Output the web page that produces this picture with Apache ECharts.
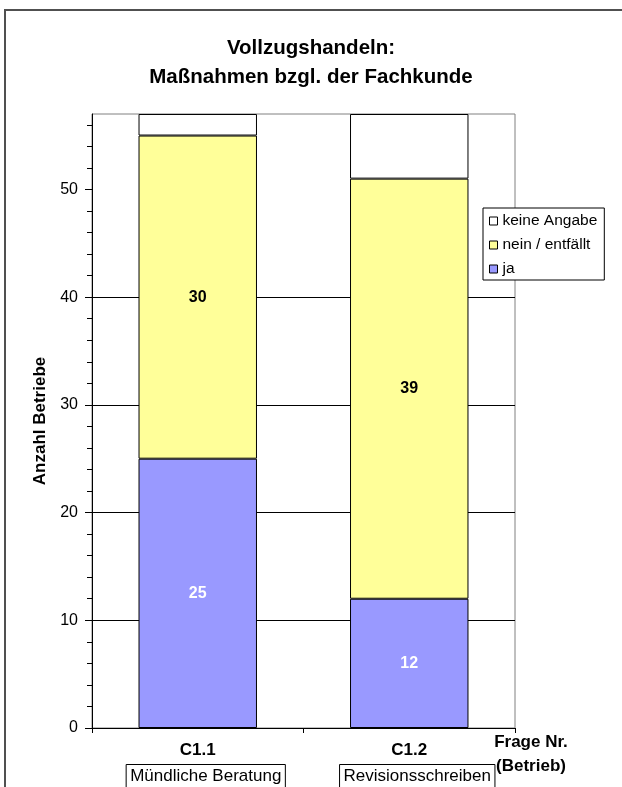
<!DOCTYPE html>
<html>
<head>
<meta charset="utf-8">
<script src="https://cdn.jsdelivr.net/npm/echarts@6/dist/echarts.min.js"></script>
<style>
  html, body { margin: 0; padding: 0; background: #fff; }
  #chart { width: 622px; height: 787px; }
</style>
</head>
<body>
<div id="chart"></div>
<script>
// Questions (category codes) and their descriptions
const categories = ['C1.1', 'C1.2'];
const descriptions = ['Mündliche Beratung', 'Revisionsschreiben'];

// Number of companies per answer
const seriesNames = ['ja', 'nein / entfällt', 'keine Angabe'];
const jaValues = [25, 12];
const neinValues = [30, 39];
const keineValues = [2, 6];

// Value axis
const yMax = 57;
const yLabelValues = [0, 10, 20, 30, 40, 50];
const yMinorTicks = [2, 4, 6, 8, 12, 14, 16, 18, 22, 24, 26, 28, 32, 34, 36, 38, 42, 44, 46, 48, 52, 54, 56];

const FONT = '"Liberation Sans", Arial, Helvetica, sans-serif';

const chart = echarts.init(document.getElementById('chart'));

function barSeries(name, data, color, labelColor) {
  return {
    name: name,
    type: 'bar',
    stack: 'total',
    barWidth: '56%',
    data: data,
    itemStyle: { color: color, borderColor: '#000', borderWidth: 1 },
    label: labelColor ? {
      show: true,
      position: 'inside',
      color: labelColor,
      fontFamily: FONT,
      fontWeight: 'bold',
      fontSize: 16
    } : { show: false },
    emphasis: { disabled: true }
  };
}

chart.setOption({
  animation: false,
  backgroundColor: '#fff',
  textStyle: { fontFamily: FONT },
  title: {
    text: 'Vollzugshandeln:\nMaßnahmen bzgl. der Fachkunde',
    left: 'center',
    top: 29,
    textStyle: {
      fontFamily: FONT,
      fontWeight: 'bold',
      fontSize: 20.5,
      lineHeight: 29,
      color: '#000'
    }
  },
  legend: {
    orient: 'vertical',
    left: 483,
    top: 208,
    padding: [5, 7, 3, 6],
    itemGap: 8,
    itemWidth: 8,
    itemHeight: 8,
    icon: 'rect',
    backgroundColor: '#fff',
    borderColor: '#000',
    borderWidth: 1,
    borderRadius: 0,
    itemStyle: { borderColor: '#000', borderWidth: 1 },
    textStyle: { fontFamily: FONT, fontSize: 15.5, color: '#000', lineHeight: 16 },
    data: ['keine Angabe', 'nein / entfällt', 'ja']
  },
  grid: {
    left: 92,
    right: 107,
    top: 114,
    bottom: 59,
    show: true,
    borderColor: '#808080',
    borderWidth: 1,
    containLabel: false,
    outerBoundsMode: 'none'
  },
  xAxis: {
    type: 'category',
    data: categories,
    name: 'Frage Nr.\n(Betrieb)',
    nameLocation: 'end',
    nameGap: 16,
    nameMoveOverlap: false,
    nameTextStyle: {
      fontFamily: FONT,
      fontWeight: 'bold',
      fontSize: 17,
      lineHeight: 24,
      color: '#000',
      align: 'center',
      verticalAlign: 'top',
      padding: [2, 0, 0, 0]
    },
    axisLine: { lineStyle: { color: '#000', width: 1 } },
    axisTick: { show: true, length: 5, lineStyle: { color: '#000' } },
    axisLabel: {
      margin: 5.5,
      formatter: function (value, idx) {
        return '{c|' + value + '}\n{sp|}{s|' + descriptions[idx] + '}';
      },
      rich: {
        c: { fontFamily: FONT, fontWeight: 'bold', fontSize: 17, lineHeight: 33, color: '#000' },
        sp: { width: 16 },
        s: {
          fontFamily: FONT, fontSize: 17, lineHeight: 20, color: '#000',
          borderColor: '#000', borderWidth: 1, padding: [3, 4, 4, 4]
        }
      }
    },
    splitLine: { show: false }
  },
  yAxis: [
    {
      type: 'value',
      min: 0,
      max: yMax,
      interval: 10,
      name: 'Anzahl Betriebe',
      nameLocation: 'middle',
      nameGap: 36,
      nameTextStyle: { fontFamily: FONT, fontWeight: 'bold', fontSize: 17, color: '#000' },
      axisLine: { show: true, lineStyle: { color: '#000', width: 1 } },
      axisTick: { show: true, length: 7, customValues: yLabelValues, lineStyle: { color: '#000' } },
      axisLabel: { margin: 14, fontFamily: FONT, fontSize: 16, color: '#000', customValues: yLabelValues },
      splitLine: { show: true, showMaxLine: false, showMinLine: false, lineStyle: { color: '#000', width: 1 } }
    },
    {
      type: 'value',
      min: 0,
      max: yMax,
      position: 'left',
      axisLine: { show: false },
      axisLabel: { show: false },
      splitLine: { show: false },
      axisTick: { show: true, length: 5, customValues: yMinorTicks, lineStyle: { color: '#000' } }
    }
  ],
  series: [
    barSeries(seriesNames[0], jaValues, '#9999FF', '#fff'),
    barSeries(seriesNames[1], neinValues, '#FFFF99', '#000'),
    barSeries(seriesNames[2], keineValues, '#FFFFFF', null)
  ],
  graphic: [
    {
      type: 'rect',
      silent: true,
      z: 100,
      shape: { x: 5, y: 10, width: 900, height: 900 },
      style: { fill: null, stroke: '#505050', lineWidth: 2 }
    }
  ]
});
</script>
</body>
</html>
